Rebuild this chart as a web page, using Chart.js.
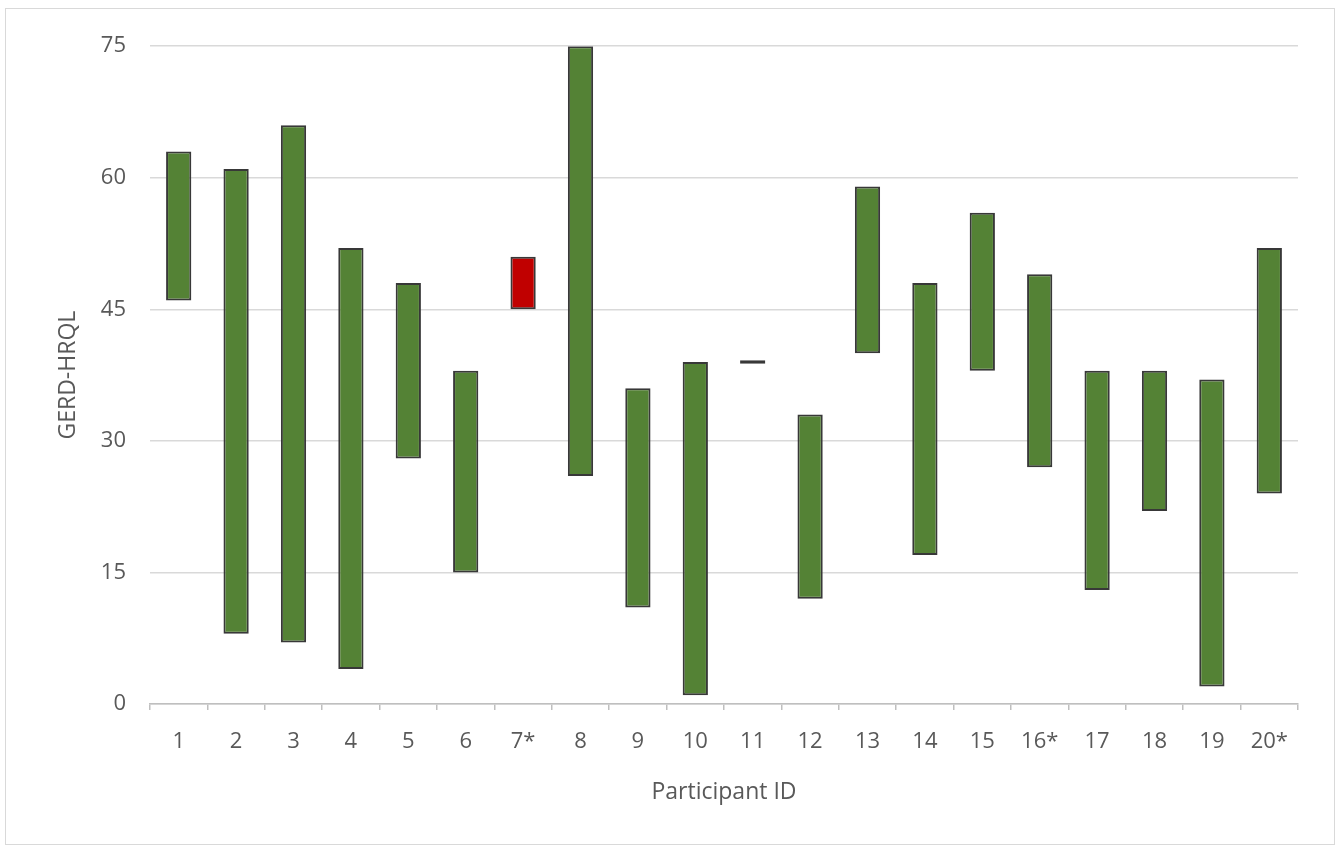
<!DOCTYPE html>
<html>
<head>
<meta charset="utf-8">
<script src="https://cdn.jsdelivr.net/npm/chart.js@4.4.1/dist/chart.umd.min.js"></script>
<style>
  html, body { margin: 0; padding: 0; background: #fff; }
  .frame {
    position: absolute; left: 5px; top: 8px;
    width: 1328px; height: 835px;
    border: 1px solid #d9d9d9;
  }
  canvas { display: block; }
</style>
</head>
<body>
<div class="frame">
  <canvas id="rangeChart" width="1328" height="835"></canvas>
</div>

<script>
// participant ids on the x axis
const participants = ['1','2','3','4','5','6','7*','8','9','10','11','12','13','14','15','16*','17','18','19','20*'];
// lowest and highest GERD-HRQL score per participant
const lowScores  = [46, 8, 7, 4, 28, 15, 45, 26, 11, 1, 38.8, 12, 40, 17, 38, 27, 13, 22, 2, 24];
const highScores = [63, 61, 66, 52, 48, 38, 51, 75, 36, 39, 39.2, 33, 59, 48, 56, 49, 38, 38, 37, 52];
const yTicks = [0, 15, 30, 45, 60, 75];
const redIds = ['7*'];

const ranges = participants.map((p, i) => [lowScores[i], highScores[i]]);
const fills = participants.map(p => redIds.includes(p) ? '#c00000' : '#548235');

const textColor = '#595959';
const fontFamily = '"Open Sans", "Noto Sans", sans-serif';

var ctx = document.getElementById('rangeChart').getContext('2d');
var rangeChart = new Chart(ctx, {
  type: 'bar',
  data: {
    labels: participants,
    datasets: [{
      label: 'GERD-HRQL',
      data: ranges,
      backgroundColor: fills,
      borderColor: '#383838',
      borderWidth: 2,
      borderSkipped: false,
      barPercentage: 0.44,
      categoryPercentage: 1
    }]
  },
  options: {
    responsive: false,
    animation: false,
    layout: { padding: { top: 34, right: 36, left: 0, bottom: 0 } },
    plugins: {
      legend: { display: false },
      tooltip: { enabled: false }
    },
    scales: {
      x: {
        offset: true,
        grid: { drawOnChartArea: false, drawTicks: true, tickLength: 6, offset: true, color: '#bfbfbf', lineWidth: 1.5 },
        border: { display: true, color: '#bfbfbf', width: 1.5 },
        ticks: { color: textColor, font: { family: fontFamily, size: 22 }, padding: 19, maxRotation: 0, autoSkip: false },
        title: {
          display: true, text: 'Participant ID', color: textColor,
          font: { family: fontFamily, size: 23 }, padding: { top: 0, bottom: 38 }
        },
        afterFit: (scale) => { scale.height = 140; }
      },
      y: {
        min: 0,
        max: 75,
        afterBuildTicks: (scale) => { scale.ticks = yTicks.map(v => ({ value: v })); },
        grid: { color: '#d9d9d9', lineWidth: 1.5, drawTicks: false },
        border: { display: false },
        ticks: { color: textColor, font: { family: fontFamily, size: 22 }, padding: 24 },
        title: {
          display: true, text: 'GERD-HRQL', color: textColor,
          font: { family: fontFamily, size: 23 }, padding: { top: 49, bottom: 0 }
        },
        afterFit: (scale) => { scale.width = 144; }
      }
    }
  }
});
</script>
</body>
</html>
